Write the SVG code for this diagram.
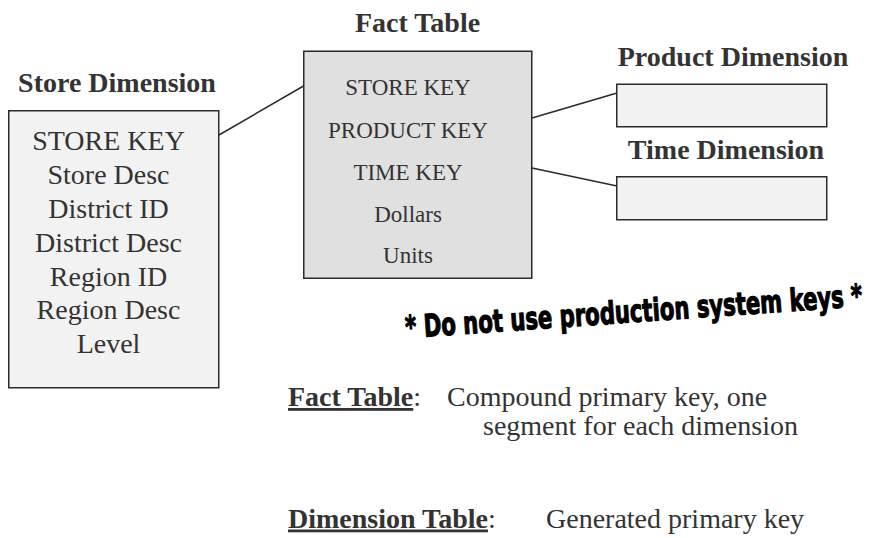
<svg xmlns="http://www.w3.org/2000/svg" width="873" height="538" viewBox="0 0 873 538">
<style>
.t{font-family:"Liberation Serif","Times New Roman",serif;fill:#333;}
.b{font-weight:bold;font-size:28px;}
.box{stroke:#2b2b2b;stroke-width:1.5;}
.dim{fill:#f2f2f2;}
.fact{fill:#e0e0e0;}
.c{stroke:#2b2b2b;stroke-width:1.5;fill:none;}
.s28{font-size:28px;}
.s23{font-size:23px;}
.warn{font-family:"DejaVu Sans","Liberation Sans",sans-serif;font-weight:bold;font-size:31px;fill:#000;stroke:#000;stroke-width:1.2;stroke-linejoin:round;}
</style>
<rect width="873" height="538" fill="#fff"/>
<g id="connectors">
<line class="c" x1="219" y1="135" x2="303.5" y2="86"/>
<line class="c" x1="532" y1="118" x2="617" y2="93"/>
<line class="c" x1="532" y1="168" x2="617" y2="186"/>
</g>
<g id="store-dimension">
<text class="t b" x="117" y="92" text-anchor="middle">Store Dimension</text>
<rect class="box dim" x="8.75" y="110.75" width="210" height="277"/>
<g class="t s28" text-anchor="middle">
<text x="108.5" y="150">STORE KEY</text>
<text x="108.5" y="184">Store Desc</text>
<text x="108.5" y="218">District ID</text>
<text x="108.5" y="251.5">District Desc</text>
<text x="108.5" y="285.5">Region ID</text>
<text x="108.5" y="319">Region Desc</text>
<text x="108.5" y="353">Level</text>
</g>
</g>
<g id="fact-table">
<text class="t b" x="417.5" y="32" text-anchor="middle">Fact Table</text>
<rect class="box fact" x="303.75" y="51.25" width="228" height="227"/>
<g class="t s23" text-anchor="middle">
<text x="408" y="95">STORE KEY</text>
<text x="408" y="138">PRODUCT KEY</text>
<text x="408" y="180">TIME KEY</text>
<text x="408" y="222">Dollars</text>
<text x="408" y="263">Units</text>
</g>
</g>
<g id="product-dimension">
<text class="t b" x="733" y="65.5" text-anchor="middle">Product Dimension</text>
<rect class="box dim" x="616.75" y="84.25" width="210" height="42.5"/>
</g>
<g id="time-dimension">
<text class="t b" x="726" y="158.5" text-anchor="middle">Time Dimension</text>
<rect class="box dim" x="616.75" y="176.75" width="210" height="43"/>
</g>
<g id="note">
<text class="warn" x="406" y="338" transform="rotate(-4 406 338)" textLength="458" lengthAdjust="spacingAndGlyphs">* Do not use production system keys *</text>
</g>
<g id="legend" class="t s28">
<text y="406"><tspan x="288" font-weight="bold" text-decoration="underline">Fact Table</tspan><tspan>:</tspan><tspan x="447">Compound primary key, one</tspan></text>
<text x="483" y="435">segment for each dimension</text>
<text y="527.5"><tspan x="288" font-weight="bold" text-decoration="underline">Dimension Table</tspan><tspan>:</tspan><tspan x="546">Generated primary key</tspan></text>
</g>
</svg>
